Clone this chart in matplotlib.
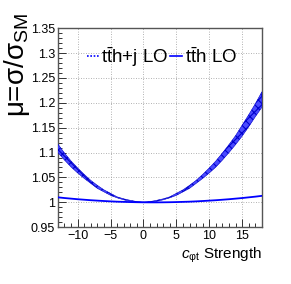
#!/usr/bin/env python3
# -*- coding: utf-8 -*-
"""Отношение сечений ttH+j / ttH к SM в зависимости от c_phi_t."""

import matplotlib
matplotlib.use("Agg")
import matplotlib.pyplot as plt
from matplotlib.lines import Line2D
from matplotlib.ticker import MultipleLocator, FormatStrFormatter

plt.rcParams['font.family'] = ['Liberation Sans', 'DejaVu Sans']
plt.rcParams['mathtext.fontset'] = 'custom'
plt.rcParams['mathtext.rm'] = 'Liberation Sans'
plt.rcParams['mathtext.it'] = 'Liberation Sans:italic'
plt.rcParams['axes.unicode_minus'] = True
plt.rcParams['hatch.linewidth'] = 0.8

# Значения
c_phit = [-13, -12, -11, -10, -9, -8, -7, -6, -5, -4, -3, -2, -1, 0,
          1, 2, 3, 4, 5, 6, 7, 8, 9, 10, 11, 12, 13, 14, 15, 16, 17, 18]
tthj_low = [1.100, 1.085, 1.071, 1.059, 1.048, 1.038, 1.028, 1.021,
            1.014, 1.009, 1.005, 1.002, 1.0005, 0.9995,
            1.0005, 1.002, 1.005, 1.009, 1.014, 1.021, 1.028, 1.038,
            1.048, 1.059, 1.071, 1.085, 1.100, 1.116, 1.133, 1.152,
            1.172, 1.191]
tthj_high = [1.117, 1.099, 1.083, 1.069, 1.056, 1.044, 1.034, 1.025,
             1.018, 1.011, 1.007, 1.004, 1.0015, 1.0005,
             1.0015, 1.004, 1.007, 1.011, 1.018, 1.025, 1.034, 1.044,
             1.056, 1.069, 1.083, 1.099, 1.116, 1.134, 1.155, 1.176,
             1.198, 1.222]
tth_lo = [1.0100, 1.0086, 1.0074, 1.0062, 1.0052, 1.0042, 1.0034, 1.0026,
          1.0019, 1.0013, 1.0009, 1.0005, 1.0002, 1.0000,
          0.9999, 0.9999, 1.0000, 1.0002, 1.0005, 1.0009, 1.0013, 1.0019,
          1.0026, 1.0034, 1.0042, 1.0052, 1.0062, 1.0074, 1.0086, 1.0100,
          1.0114, 1.0130]

LABEL_TTHJ = r'$\mathrm{t\bar{t}h}$+j LO'
LABEL_TTH = r'$\mathrm{t\bar{t}h}$ LO'
BLUE = '#0000ff'


def main():
    fig = plt.figure(figsize=(2.91, 2.84), dpi=100)
    ax = fig.add_axes([0.199, 0.20, 0.701, 0.701])

    ax.fill_between(c_phit, tthj_low, tthj_high, facecolor='#4a4aff',
                    edgecolor='#0000cc', hatch='xxxx', linewidth=0.4,
                    zorder=3)
    ax.plot(c_phit, tth_lo, color=BLUE, lw=1.3, zorder=4)

    ax.set_xlim(-13, 18)
    ax.set_ylim(0.95, 1.35)
    ax.xaxis.set_major_locator(MultipleLocator(5))
    ax.xaxis.set_minor_locator(MultipleLocator(1))
    ax.yaxis.set_major_locator(MultipleLocator(0.05))
    ax.yaxis.set_minor_locator(MultipleLocator(0.01))
    ax.yaxis.set_major_formatter(FormatStrFormatter('%g'))
    ax.tick_params(which='both', direction='in', labelsize=9, width=0.7,
                   color='#333333', top=False, right=False)
    ax.tick_params(which='major', length=6, pad=2)
    ax.tick_params(which='minor', length=3)
    ax.grid(True, which='major', color='#999999', lw=0.6, ls=(0, (1, 2)))
    for sp in ax.spines.values():
        sp.set_color('#555555')
        sp.set_linewidth(1.0)

    handles = [Line2D([], [], color=BLUE, ls=(0, (1, 1)), lw=1.2),
               Line2D([], [], color=BLUE, ls='-', lw=1.2)]
    ax.legend(handles, [LABEL_TTHJ, LABEL_TTH], ncol=2, frameon=False,
              loc='center', bbox_to_anchor=(0.51, 0.855), fontsize=13.5,
              handlelength=0.6, handletextpad=0.15, columnspacing=0.1,
              borderaxespad=0, borderpad=0)

    fig.text(0.058, 0.77, 'μ=σ/σ$_{\\mathrm{SM}}$', rotation=90,
             ha='center', va='center', fontsize=20)
    fig.text(0.899, 0.10, r'$c_{\mathrm{\varphi t}}$ Strength',
             ha='right', va='center', fontsize=11)

    fig.savefig('out.png', dpi=100)


if __name__ == "__main__":
    main()
